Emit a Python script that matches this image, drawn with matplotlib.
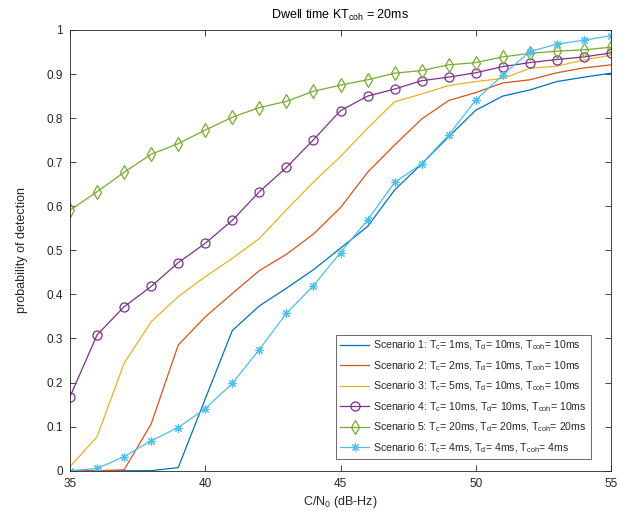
import matplotlib
matplotlib.use("Agg")
import matplotlib.pyplot as plt

plt.rcParams['font.family'] = ['Liberation Sans', 'DejaVu Sans']
plt.rcParams['mathtext.fontset'] = 'custom'
plt.rcParams['mathtext.rm'] = 'Liberation Sans'
plt.rcParams['mathtext.it'] = 'Liberation Sans:italic'
plt.rcParams['mathtext.bf'] = 'Liberation Sans:bold'

cn0 = list(range(35, 56))

s1 = [0.0, 0.0, 0.0, 0.0, 0.007, 0.163, 0.318, 0.374, 0.414, 0.456, 0.505,
      0.554, 0.637, 0.696, 0.758, 0.818, 0.850, 0.864, 0.883, 0.893, 0.902]
s2 = [0.0, 0.0, 0.002, 0.106, 0.285, 0.349, 0.402, 0.454, 0.491, 0.537, 0.597,
      0.677, 0.739, 0.798, 0.840, 0.858, 0.880, 0.887, 0.903, 0.914, 0.921]
s3 = [0.009, 0.077, 0.244, 0.338, 0.395, 0.440, 0.482, 0.527, 0.592, 0.655, 0.713,
      0.777, 0.837, 0.855, 0.874, 0.883, 0.890, 0.913, 0.918, 0.932, 0.943]
s4 = [0.168, 0.308, 0.372, 0.418, 0.472, 0.516, 0.568, 0.633, 0.688, 0.751, 0.817,
      0.850, 0.866, 0.885, 0.893, 0.903, 0.917, 0.926, 0.933, 0.939, 0.948]
s5 = [0.591, 0.633, 0.677, 0.718, 0.742, 0.773, 0.802, 0.824, 0.838, 0.861, 0.875,
      0.887, 0.902, 0.908, 0.921, 0.926, 0.939, 0.947, 0.952, 0.955, 0.961]
s6 = [0.0, 0.005, 0.032, 0.068, 0.098, 0.141, 0.198, 0.275, 0.357, 0.420, 0.495,
      0.569, 0.654, 0.696, 0.762, 0.841, 0.898, 0.951, 0.968, 0.977, 0.987]

labels = [
    r'Scenario 1: T$_{\mathrm{c}}$= 1ms, T$_{\mathrm{d}}$= 10ms, T$_{\mathrm{coh}}$= 10ms',
    r'Scenario 2: T$_{\mathrm{c}}$= 2ms, T$_{\mathrm{d}}$= 10ms, T$_{\mathrm{coh}}$= 10ms',
    r'Scenario 3: T$_{\mathrm{c}}$= 5ms, T$_{\mathrm{d}}$= 10ms, T$_{\mathrm{coh}}$= 10ms',
    r'Scenario 4: T$_{\mathrm{c}}$= 10ms, T$_{\mathrm{d}}$= 10ms, T$_{\mathrm{coh}}$= 10ms',
    r'Scenario 5: T$_{\mathrm{c}}$= 20ms, T$_{\mathrm{d}}$= 20ms, T$_{\mathrm{coh}}$= 20ms',
    r'Scenario 6: T$_{\mathrm{c}}$= 4ms, T$_{\mathrm{d}}$= 4ms, T$_{\mathrm{coh}}$= 4ms',
]
colors = ['#0072BD', '#D95319', '#EDB120', '#7E2F8E', '#77AC30', '#4DBEEE']
markers = [None, None, None, 'o', 'd', 'ast']
series = [s1, s2, s3, s4, s5, s6]

fig = plt.figure(figsize=(6.23, 5.11), dpi=100)
ax = fig.add_axes([70/623, 1-470.7/511, (611-70)/623, (470.7-30)/511])

for ys, c, m, lab in zip(series, colors, markers, labels):
    if m == 'ast':
        ax.plot(cn0, ys, color=c, lw=0.9, marker=(8, 2, 0), ms=6, mfc='none', mec=c,
                mew=0.8, label=lab)
    elif m == 'o':
        ax.plot(cn0, ys, color=c, lw=0.9, marker='o', ms=6.5,
                mfc='none', mec=c, mew=0.9, label=lab)
    elif m == 'd':
        ax.plot(cn0, ys, color=c, lw=0.9, marker='d', ms=7,
                mfc='none', mec=c, mew=0.9, label=lab)
    else:
        ax.plot(cn0, ys, color=c, lw=0.9, label=lab)

ax.set_xlim(35, 55)
ax.set_ylim(0, 1)
ax.set_xticks([35, 40, 45, 50, 55])
ax.set_yticks([i / 10 for i in range(11)])
ax.set_yticklabels(['0', '0.1', '0.2', '0.3', '0.4', '0.5', '0.6', '0.7', '0.8', '0.9', '1'])
ax.tick_params(direction='in', length=4, width=0.6, colors='#262626', labelsize=8.5,
               top=True, right=True, pad=5)
for sp in ax.spines.values():
    sp.set_color('#262626')
    sp.set_linewidth(0.6)

ax.set_xlabel(r'C/N$_{\mathrm{0}}$ (dB-Hz)', fontsize=9, color='#262626', labelpad=3)
ax.set_ylabel('probability of detection', fontsize=9, color='#262626', labelpad=13)
ax.set_title(r'Dwell time KT$_{\mathrm{coh}}$ = 20ms', fontsize=9, color='#000000', pad=8)

leg = ax.legend(loc='lower right', bbox_to_anchor=((591-70)/541, (470.7-459)/440.7),
                fontsize=7.6, frameon=True, fancybox=False, edgecolor='#262626',
                handlelength=2.7, handletextpad=0.4, borderpad=0.4, labelspacing=0.65,
                borderaxespad=0)
leg.get_frame().set_linewidth(0.6)
for t in leg.get_texts():
    t.set_color('#262626')

fig.savefig('out.png', dpi=100, facecolor='white')
